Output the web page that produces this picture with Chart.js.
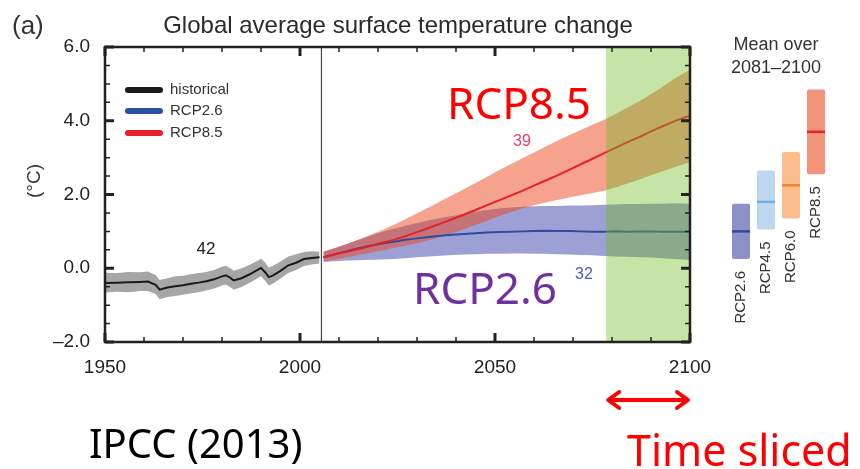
<!DOCTYPE html>
<html>
<head>
<meta charset="utf-8">
<script src="https://cdn.jsdelivr.net/npm/chart.js@4.4.0/dist/chart.umd.min.js"></script>
<style>
    body { margin: 0; background: #fff; }
    #wrap { position: relative; width: 860px; height: 469px; }
    #main { position: absolute; left: 0; top: 0; }
    #side { position: absolute; left: 715px; top: 0; }
</style>
</head>
<body>
<div id="wrap">
    <canvas id="main" width="860" height="469"></canvas>
    <canvas id="side" width="145" height="469"></canvas>
</div>
<script>
// historical simulations (42 models)
const histYears = [1950, 1953, 1956, 1959, 1961, 1963, 1964, 1966, 1968, 1970, 1972, 1974, 1976, 1978, 1980, 1981,
    1982, 1983, 1985, 1987, 1989, 1990, 1991, 1992, 1993, 1995, 1997, 1999, 2001, 2003, 2005];
const histMean = [-0.40, -0.39, -0.38, -0.37, -0.36, -0.45, -0.58, -0.52, -0.49, -0.46, -0.42, -0.39, -0.35, -0.30, -0.22, -0.19,
    -0.25, -0.33, -0.27, -0.17, -0.05, 0.01, -0.10, -0.24, -0.20, -0.07, 0.08, 0.15, 0.25, 0.28, 0.30];
const histHigh = [-0.12, -0.13, -0.10, -0.11, -0.09, -0.18, -0.32, -0.27, -0.22, -0.20, -0.16, -0.13, -0.10, -0.05, 0.04, 0.07,
    0.01, -0.07, 0.00, 0.09, 0.20, 0.26, 0.16, 0.02, 0.06, 0.18, 0.32, 0.38, 0.44, 0.46, 0.45];
const histLow = [-0.66, -0.64, -0.65, -0.62, -0.62, -0.70, -0.84, -0.78, -0.75, -0.72, -0.68, -0.65, -0.60, -0.55, -0.47, -0.44,
    -0.50, -0.58, -0.51, -0.40, -0.28, -0.22, -0.33, -0.47, -0.42, -0.28, -0.13, -0.05, 0.06, 0.10, 0.13];

// projections
const rcpYears = [2006, 2009, 2012, 2015, 2018, 2021, 2024, 2027, 2030, 2033, 2036, 2039, 2042, 2045, 2048, 2051,
    2054, 2057, 2060, 2063, 2066, 2069, 2072, 2075, 2078, 2081, 2084, 2087, 2090, 2093, 2096, 2099, 2100];
const rcp85Mean = [0.30, 0.38, 0.45, 0.52, 0.60, 0.69, 0.77, 0.87, 0.98, 1.09, 1.21, 1.33, 1.45, 1.58, 1.71, 1.84,
    1.97, 2.10, 2.24, 2.38, 2.52, 2.67, 2.82, 2.97, 3.12, 3.27, 3.42, 3.56, 3.71, 3.85, 3.99, 4.10, 4.13];
const rcp85High = [0.46, 0.55, 0.66, 0.77, 0.90, 1.03, 1.17, 1.33, 1.49, 1.65, 1.82, 1.98, 2.14, 2.31, 2.48, 2.66,
    2.82, 2.98, 3.14, 3.30, 3.46, 3.61, 3.75, 3.89, 4.03, 4.19, 4.36, 4.53, 4.72, 4.92, 5.14, 5.33, 5.38];
const rcp85Low = [0.18, 0.24, 0.30, 0.36, 0.42, 0.48, 0.55, 0.61, 0.68, 0.76, 0.85, 0.95, 1.06, 1.17, 1.29, 1.41,
    1.52, 1.62, 1.71, 1.78, 1.85, 1.92, 1.98, 2.04, 2.10, 2.20, 2.30, 2.41, 2.52, 2.63, 2.74, 2.84, 2.87];
const rcp26Mean = [0.30, 0.38, 0.46, 0.54, 0.61, 0.67, 0.72, 0.77, 0.81, 0.85, 0.88, 0.91, 0.93, 0.95, 0.97, 0.98,
    0.99, 1.00, 1.01, 1.02, 1.01, 1.01, 1.00, 0.99, 0.99, 1.00, 0.99, 1.00, 1.00, 0.99, 0.99, 0.99, 0.99];
const rcp26High = [0.44, 0.55, 0.66, 0.77, 0.88, 0.98, 1.07, 1.15, 1.23, 1.30, 1.36, 1.42, 1.48, 1.53, 1.58, 1.62,
    1.65, 1.67, 1.68, 1.69, 1.69, 1.70, 1.70, 1.71, 1.72, 1.73, 1.74, 1.74, 1.75, 1.75, 1.76, 1.75, 1.75];
const rcp26Low = [0.17, 0.19, 0.21, 0.22, 0.23, 0.24, 0.25, 0.27, 0.30, 0.32, 0.34, 0.36, 0.37, 0.38, 0.39, 0.39,
    0.40, 0.40, 0.39, 0.39, 0.38, 0.37, 0.36, 0.35, 0.33, 0.32, 0.31, 0.30, 0.29, 0.27, 0.25, 0.23, 0.22];

// mean over 2081-2100
const sliceScenarios = ['RCP2.6', 'RCP4.5', 'RCP6.0', 'RCP8.5'];
const sliceLow = [0.25, 1.05, 1.35, 2.55];
const sliceHigh = [1.75, 2.65, 3.15, 4.85];
const sliceMean = [1.0, 1.8, 2.25, 3.7];

const xTicks = [1950, 2000, 2050, 2100];
const yTicks = [-2, 0, 2, 4, 6];

const PROJ_START = 2005.5;
const SLICE_START = 2078.5;
const SLICE_END = 2100;

const pts = (xs, ys) => xs.map((x, i) => ({ x, y: ys[i] }));
const AXIS_FONT = '"Liberation Sans", Arial, sans-serif';
const PPT_FONT = '"Noto Sans", "Open Sans", sans-serif';

function label(ctx, s, x, y, font, color, align = 'center', base = 'middle') {
    ctx.font = font;
    ctx.fillStyle = color;
    ctx.textAlign = align;
    ctx.textBaseline = base;
    ctx.fillText(s, x, y);
}

const band = (data, fill, color, order) => ({
    data, fill, backgroundColor: color, borderWidth: 0, pointRadius: 0, order
});

const mainDecor = {
    id: 'mainDecor',
    afterDatasetsDraw(chart) {
        const { ctx, chartArea: a, scales: { x } } = chart;
        ctx.save();
        const xs = x.getPixelForValue(SLICE_START);
        ctx.fillStyle = 'rgba(110,188,32,0.4)';
        ctx.fillRect(xs, a.top, x.getPixelForValue(SLICE_END) - xs, a.bottom - a.top);
        const xp = x.getPixelForValue(PROJ_START);
        ctx.strokeStyle = '#444';
        ctx.lineWidth = 1.2;
        ctx.beginPath();
        ctx.moveTo(xp, a.top);
        ctx.lineTo(xp, a.bottom);
        ctx.stroke();
        ctx.restore();
    },
    afterDraw(chart) {
        const { ctx, chartArea: a, scales: { x, y } } = chart;
        ctx.save();
        // inward ticks on all four sides
        ctx.strokeStyle = '#222';
        ctx.lineCap = 'butt';
        for (let v = 1950; v <= 2100; v += 10) {
            const px = x.getPixelForValue(v);
            const major = v % 50 === 0;
            const len = major ? 9 : 5;
            ctx.lineWidth = major ? 3 : 1.5;
            ctx.beginPath();
            ctx.moveTo(px, a.bottom); ctx.lineTo(px, a.bottom - len);
            ctx.moveTo(px, a.top); ctx.lineTo(px, a.top + len);
            ctx.stroke();
        }
        for (let v = -2; v <= 6; v += 0.5) {
            const py = y.getPixelForValue(v);
            const major = v % 2 === 0;
            const len = major ? 9 : 5;
            ctx.lineWidth = major ? 3 : 1.5;
            ctx.beginPath();
            ctx.moveTo(a.left, py); ctx.lineTo(a.left + len, py);
            ctx.moveTo(a.right, py); ctx.lineTo(a.right - len, py);
            ctx.stroke();
        }
        ctx.lineWidth = 2.5;
        ctx.strokeRect(a.left, a.top, a.right - a.left, a.bottom - a.top);

        // titles
        label(ctx, '(a)', 12, 34, '26px ' + AXIS_FONT, '#333', 'left', 'alphabetic');
        label(ctx, 'Global average surface temperature change', 398, 33, '24px ' + AXIS_FONT, '#2a2a2a', 'center', 'alphabetic');
        ctx.save();
        ctx.translate(35, 181);
        ctx.rotate(-Math.PI / 2);
        label(ctx, '(\u00B0C)', 0, 0, '19px ' + AXIS_FONT, '#333');
        ctx.restore();

        // legend
        const legend = [['historical', '#1a1a1a'], ['RCP2.6', '#3050a0'], ['RCP8.5', '#e8202a']];
        const legendY = [90, 111, 133];
        ctx.lineCap = 'round';
        ctx.lineWidth = 6;
        legend.forEach(([name, col], i) => {
            ctx.strokeStyle = col;
            ctx.beginPath();
            ctx.moveTo(128, legendY[i]); ctx.lineTo(160, legendY[i]);
            ctx.stroke();
            label(ctx, name, 170, legendY[i], '15px ' + AXIS_FONT, '#333', 'left');
        });

        // model counts
        label(ctx, '42', 206, 249, '17px ' + AXIS_FONT, '#222');
        label(ctx, '39', 522, 142, '16px ' + AXIS_FONT, '#e8406a');
        label(ctx, '32', 584, 275, '16px ' + AXIS_FONT, '#4a5cb8');

        // overlay annotations
        label(ctx, 'RCP8.5', 519, 106, '44px ' + PPT_FONT, '#ff0000');
        label(ctx, 'RCP2.6', 485, 291, '44px ' + PPT_FONT, '#7030a0');
        label(ctx, 'IPCC (2013)', 89, 458, '40px ' + PPT_FONT, '#000', 'left', 'alphabetic');
        label(ctx, 'Time sliced', 627, 466, '43px ' + PPT_FONT, '#ff0000', 'left', 'alphabetic');

        // double arrow under the time slice
        const x0 = x.getPixelForValue(SLICE_START) + 2;
        const x1 = x.getPixelForValue(SLICE_END) - 2;
        const ay = 400;
        ctx.strokeStyle = '#ff0000';
        ctx.lineWidth = 4;
        ctx.lineCap = 'round';
        ctx.lineJoin = 'round';
        ctx.beginPath();
        ctx.moveTo(x0, ay); ctx.lineTo(x1, ay);
        ctx.moveTo(x0 + 11, ay - 8); ctx.lineTo(x0, ay); ctx.lineTo(x0 + 11, ay + 8);
        ctx.moveTo(x1 - 11, ay - 8); ctx.lineTo(x1, ay); ctx.lineTo(x1 - 11, ay + 8);
        ctx.stroke();
        ctx.restore();
    }
};

new Chart(document.getElementById('main'), {
    type: 'line',
    data: {
        datasets: [
            band(pts(histYears, histLow), false, 'transparent', 5),
            band(pts(histYears, histHigh), '-1', '#a6a6a6', 5),
            band(pts(rcpYears, rcp26Low), false, 'transparent', 4),
            band(pts(rcpYears, rcp26High), '-1', 'rgba(60,65,170,0.5)', 4),
            band(pts(rcpYears, rcp85Low), false, 'transparent', 3),
            band(pts(rcpYears, rcp85High), '-1', 'rgba(238,72,30,0.5)', 3),
            { label: 'historical', data: pts(histYears, histMean), borderColor: '#1a1a1a', borderWidth: 2, pointRadius: 0, fill: false, order: 1 },
            { label: 'RCP2.6', data: pts(rcpYears, rcp26Mean), borderColor: '#2e4da0', borderWidth: 2, pointRadius: 0, fill: false, order: 1 },
            { label: 'RCP8.5', data: pts(rcpYears, rcp85Mean), borderColor: '#e8202a', borderWidth: 2, pointRadius: 0, fill: false, order: 0 }
        ]
    },
    options: {
        responsive: false,
        animation: false,
        layout: { padding: { left: 45, right: 170, top: 47, bottom: 87 } },
        plugins: { legend: { display: false }, tooltip: { enabled: false }, title: { display: false } },
        scales: {
            x: {
                type: 'linear', min: 1950, max: 2100,
                afterFit: s => { s.height = 40; },
                afterBuildTicks: s => { s.ticks = xTicks.map(value => ({ value })); },
                grid: { display: false, drawTicks: false },
                border: { display: false },
                ticks: { padding: 14, color: '#222', font: { family: AXIS_FONT, size: 19 }, maxRotation: 0, callback: v => String(v) }
            },
            y: {
                min: -2, max: 6,
                afterFit: s => { s.width = 60; },
                afterBuildTicks: s => { s.ticks = yTicks.map(value => ({ value })); },
                grid: { display: false, drawTicks: false },
                border: { display: false },
                ticks: {
                    padding: 15, color: '#222', font: { family: AXIS_FONT, size: 19 },
                    callback: v => (v < 0 ? '\u2013' + Math.abs(v).toFixed(1) : v.toFixed(1))
                }
            }
        }
    },
    plugins: [mainDecor]
});

const sideDecor = {
    id: 'sideDecor',
    afterDraw(chart) {
        const { ctx } = chart;
        ctx.save();
        label(ctx, 'Mean over', 61, 45, '18px ' + AXIS_FONT, '#333');
        label(ctx, '2081\u20132100', 61, 68, '18px ' + AXIS_FONT, '#333');
        chart.getDatasetMeta(0).data.forEach((bar, i) => {
            const bottom = Math.max(bar.y, bar.base);
            ctx.save();
            ctx.translate(bar.x, bottom + 12);
            ctx.rotate(-Math.PI / 2);
            label(ctx, sliceScenarios[i], 0, 0, '15px ' + AXIS_FONT, '#333', 'right');
            ctx.restore();
        });
        ctx.restore();
    }
};

new Chart(document.getElementById('side'), {
    type: 'bar',
    data: {
        labels: sliceScenarios,
        datasets: [
            {
                type: 'bar',
                data: sliceScenarios.map((_, i) => [sliceLow[i], sliceHigh[i]]),
                backgroundColor: ['#8e90c8', '#bdd7ef', '#fbbd8c', '#f3937a'],
                borderWidth: 0,
                borderRadius: 2,
                borderSkipped: false,
                barPercentage: 0.72,
                categoryPercentage: 1,
                order: 1
            },
            {
                type: 'line',
                data: sliceMean,
                showLine: false,
                pointStyle: 'line',
                pointRadius: 9,
                pointBorderWidth: 2.5,
                pointBorderColor: ['#2e4a9e', '#6fb0e0', '#f0862c', '#e8262a'],
                order: 0
            }
        ]
    },
    options: {
        responsive: false,
        animation: false,
        layout: { padding: { left: 13.5, right: 31.5, top: 47, bottom: 127 } },
        plugins: { legend: { display: false }, tooltip: { enabled: false } },
        scales: {
            x: { display: false },
            y: { display: false, min: -2, max: 6 }
        }
    },
    plugins: [sideDecor]
});
</script>
</body>
</html>
